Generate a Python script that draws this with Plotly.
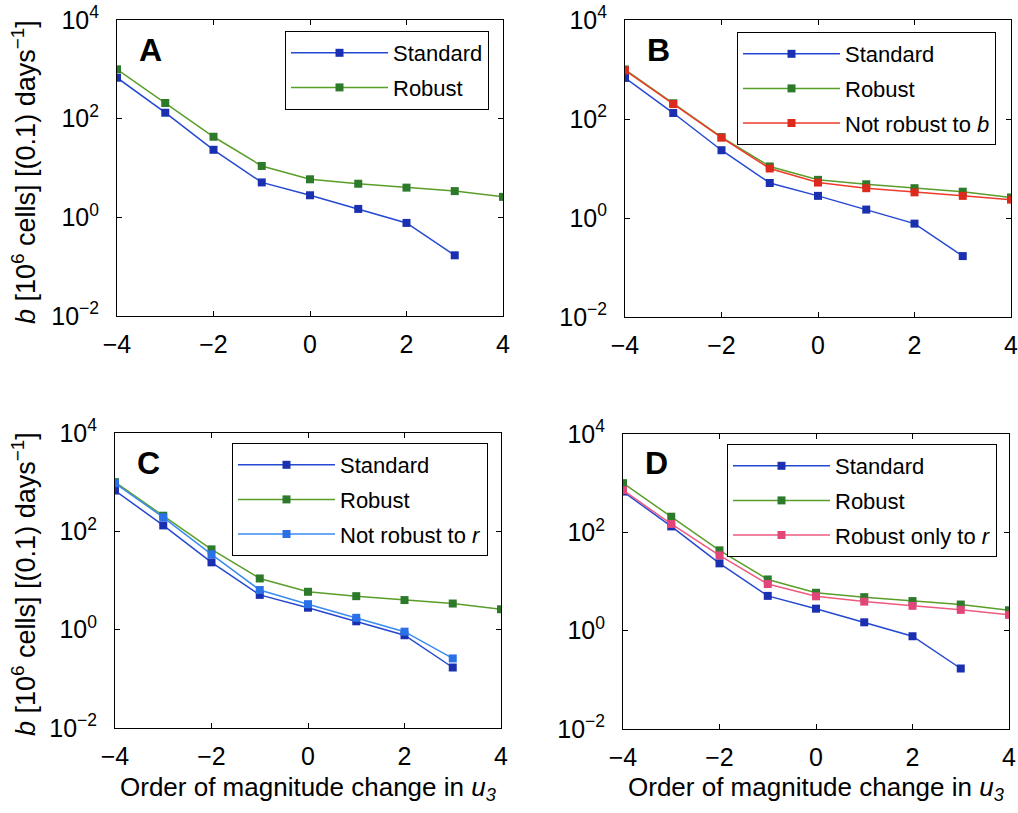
import plotly.graph_objects as go

# ---- data ----
u3_std = [-4, -3, -2, -1, 0, 1, 2, 3]
u3_full = [-4, -3, -2, -1, 0, 1, 2, 3, 4]
standard = [676, 132, 23.4, 5.1, 2.8, 1.48, 0.77, 0.17]
robust = [1000, 208, 43, 11, 5.9, 4.8, 4.0, 3.4, 2.6]
not_robust_b = [960, 200, 42, 10, 5.2, 4.0, 3.3, 2.8, 2.35]
not_robust_r = [950, 193, 34, 6.4, 3.3, 1.74, 0.91, 0.26]
robust_only_r = [720, 148, 34, 8.9, 5.0, 3.9, 3.2, 2.65, 2.1]

panel_letters = ["A", "B", "C", "D"]
xtick_vals = [-4, -2, 0, 2, 4]
xtick_text = ["\u22124", "\u22122", "0", "2", "4"]
ytick_vals = [1e-2, 1e0, 1e2, 1e4]
ytick_text = ["10<sup>\u22122</sup>", "10<sup>0</sup>", "10<sup>2</sup>", "10<sup>4</sup>"]

W, H = 1018, 813
FONT = "Liberation Sans, Arial, Helvetica, sans-serif"

# styles
S_STD = dict(line=dict(color="#2448d2", width=1.5), marker=dict(symbol="square", size=8, color="#1a30b0"))
S_ROB = dict(line=dict(color="#5a9e2a", width=1.5), marker=dict(symbol="square", size=8, color="#2d7a2a"))
S_NRB = dict(line=dict(color="#f03a2a", width=1.5), marker=dict(symbol="square", size=8, color="#dc2a1c"))
S_NRR = dict(line=dict(color="#3a8cf0", width=1.5), marker=dict(symbol="square", size=8, color="#2a70e6"))
S_ROR = dict(line=dict(color="#ee5a80", width=1.5), marker=dict(symbol="square", size=8, color="#e2457a"))

# panel pixel boxes (left, right, top, bottom)
boxes = [(117, 503, 20, 316), (625, 1011, 20, 317), (115, 501, 433, 728), (623, 1009, 434, 729)]
legend_pos = [(285, 31), (737, 32), (232, 443), (727, 444)]

fig = go.Figure()

panels = [
    [("Standard", u3_std, standard, S_STD), ("Robust", u3_full, robust, S_ROB)],
    [("Standard", u3_std, standard, S_STD), ("Robust", u3_full, robust, S_ROB),
     ("Not robust to <i>b</i>", u3_full, not_robust_b, S_NRB)],
    [("Standard", u3_std, standard, S_STD), ("Robust", u3_full, robust, S_ROB),
     ("Not robust to <i>r</i>", u3_std, not_robust_r, S_NRR)],
    [("Standard", u3_std, standard, S_STD), ("Robust", u3_full, robust, S_ROB),
     ("Robust only to <i>r</i>", u3_full, robust_only_r, S_ROR)],
]

layout = dict(
    width=W, height=H, margin=dict(l=0, r=0, t=0, b=0, autoexpand=False),
    paper_bgcolor="white", plot_bgcolor="white",
    font=dict(family=FONT, size=22, color="black"),
    showlegend=True,
)

for i, traces in enumerate(panels):
    k = "" if i == 0 else str(i + 1)
    leg = "legend" if i == 0 else "legend%d" % (i + 1)
    for j, (name, xs, ys, st) in enumerate(traces):
        fig.add_trace(go.Scatter(x=xs, y=ys, mode="lines+markers", name=name,
                                 line=st["line"], marker=st["marker"],
                                 legendgroup="g%d_%d" % (i, j),
                                 xaxis="x" + k, yaxis="y" + k, legend=leg))
    l, r, t, b = boxes[i]
    layout["xaxis" + k] = dict(
        domain=[l / W, r / W], anchor="y" + k, range=[-4, 4],
        tickvals=xtick_vals, ticktext=xtick_text, ticks="inside", ticklen=5,
        tickcolor="black", showline=True, linecolor="black", linewidth=1,
        mirror="ticks", showgrid=False, zeroline=False, automargin=False,
        ticklabeloverflow="allow",
        tickfont=dict(size=25, family=FONT, color="black"), ticklabelstandoff=6,
    )
    layout["yaxis" + k] = dict(
        domain=[1 - b / H, 1 - t / H], anchor="x" + k, type="log", range=[-2, 4],
        tickvals=ytick_vals, ticktext=ytick_text, ticks="inside", ticklen=5,
        tickcolor="black", showline=True, linecolor="black", linewidth=1,
        mirror="ticks", showgrid=False, zeroline=False, automargin=False,
        ticklabeloverflow="allow",
        tickfont=dict(size=25, family=FONT, color="black"), ticklabelstandoff=12,
    )
    lx, ly = legend_pos[i]
    layout[leg] = dict(
        x=lx / W, y=1 - ly / H, xanchor="left", yanchor="top", xref="paper", yref="paper",
        bordercolor="black", borderwidth=1, bgcolor="white",
        font=dict(size=22, family=FONT, color="black"), itemwidth=97,
        tracegroupgap=3,
    )

annotations = []
letter_pos = [(137, 50), (645, 50), (135, 463), (643, 463)]
for (px, py), letter in zip(letter_pos, panel_letters):
    annotations.append(dict(x=px / W, y=1 - py / H, xref="paper", yref="paper",
                            text="<b>%s</b>" % letter, showarrow=False,
                            xanchor="left", yanchor="middle",
                            font=dict(size=32, family=FONT, color="black")))

ytitle = "<i>b</i> [10<sup>6</sup> cells] [(0.1) days<sup>\u22121</sup>]"
for cy in [172, 584]:
    annotations.append(dict(x=24 / W, y=1 - cy / H, xref="paper", yref="paper",
                            text=ytitle, showarrow=False, textangle=-90,
                            xanchor="center", yanchor="middle",
                            font=dict(size=27, family=FONT, color="black")))

xtitle = "Order of magnitude change in <i>u</i><sub><i>3</i></sub>"
for cx in [308, 816]:
    annotations.append(dict(x=cx / W, y=1 - 788 / H, xref="paper", yref="paper",
                            text=xtitle, showarrow=False,
                            xanchor="center", yanchor="middle",
                            font=dict(size=26, family=FONT, color="black")))

layout["annotations"] = annotations
fig.update_layout(**layout)
fig.write_html("out.html")
